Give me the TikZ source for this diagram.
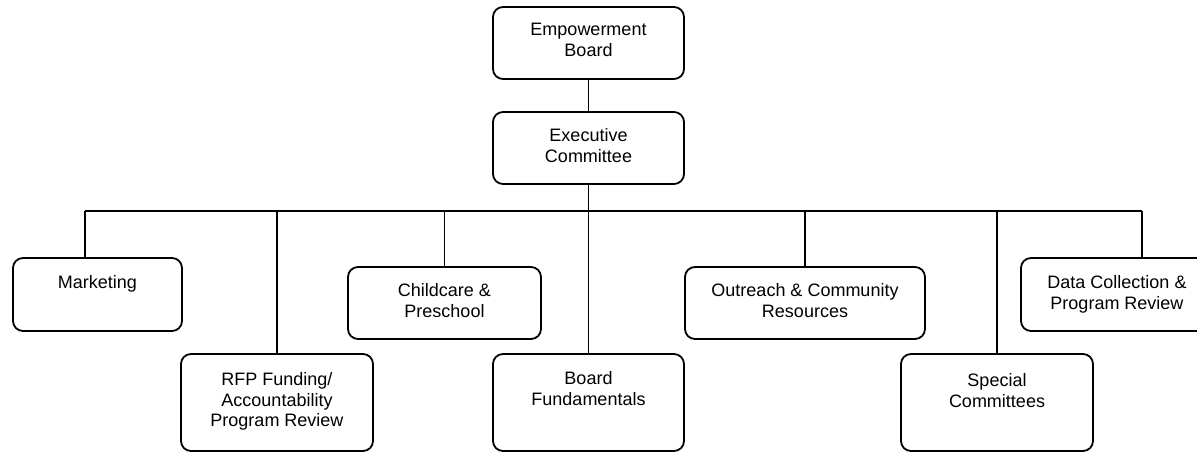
\documentclass[tikz,border=0pt]{standalone}
\usepackage{fontspec}
\setmainfont{Liberation Sans}
\begin{document}
\begin{tikzpicture}[x=1pt,y=-1pt,
  box/.style={draw, rectangle, rounded corners=10pt, line width=1.8pt, inner sep=0pt},
  lbl/.style={anchor=north, align=center, inner sep=0pt, font=\fontsize{18}{20.8}\selectfont},
  conn/.style={line width=1.8pt}]
\useasboundingbox (0,0) rectangle (1197,452);
\clip (0,0) rectangle (1197,452);
% boxes
\node[box, minimum width=191pt, minimum height=72pt] (E) at (588.5,43) {};
\node[box, minimum width=191pt, minimum height=72pt] (X) at (588.5,148) {};
\node[box, minimum width=169pt, minimum height=73pt] (M) at (97.5,294.5) {};
\node[box, minimum width=192pt, minimum height=97pt] (R) at (277,402.5) {};
\node[box, minimum width=193pt, minimum height=72pt] (C) at (444.5,303) {};
\node[box, minimum width=191pt, minimum height=97pt] (B) at (588.5,402.5) {};
\node[box, minimum width=240pt, minimum height=72pt] (O) at (805,303) {};
\node[box, minimum width=192pt, minimum height=97pt] (S) at (997,402.5) {};
\node[box, minimum width=192pt, minimum height=73pt] (D) at (1117,294.5) {};
% labels
\node[lbl] (tE) at ([yshift=-17pt]E.north) {Empowerment\\Board};
\node[lbl] (tX) at ([yshift=-17pt]X.north) {Executive\\Committee};
\node[lbl] (tM) at ([yshift=-18pt]M.north) {Marketing};
\node[lbl] (tR) at ([yshift=-19pt]R.north) {RFP Funding/\\Accountability\\Program Review};
\node[lbl] (tC) at ([yshift=-17pt]C.north) {Childcare \&\\Preschool};
\node[lbl] (tB) at ([yshift=-18pt]B.north) {Board\\Fundamentals};
\node[lbl] (tO) at ([yshift=-17pt]O.north) {Outreach \& Community\\Resources};
\node[lbl] (tS) at ([yshift=-20pt]S.north) {Special\\Committees};
\node[lbl] (tD) at ([yshift=-18pt]D.north) {Data Collection \&\\Program Review};
% connectors
\coordinate (busL) at (85,211);
\coordinate (busR) at (1142,211);
\coordinate (busC) at (588.5,211);
\draw[conn] (E.south) -- (X.north);
\draw[conn] (X.south) -- (busC);
\draw[conn] (busL) -- (busR);
\draw[conn] (busL) -- (busL |- M.north);
\draw[conn] (busC -| R.north) -- (R.north);
\draw[conn] (busC -| C.north) -- (C.north);
\draw[conn] (busC) -- (B.north);
\draw[conn] (busC -| O.north) -- (O.north);
\draw[conn] (busC -| S.north) -- (S.north);
\draw[conn] (busR) -- (busR |- D.north);
\end{tikzpicture}
\end{document}
